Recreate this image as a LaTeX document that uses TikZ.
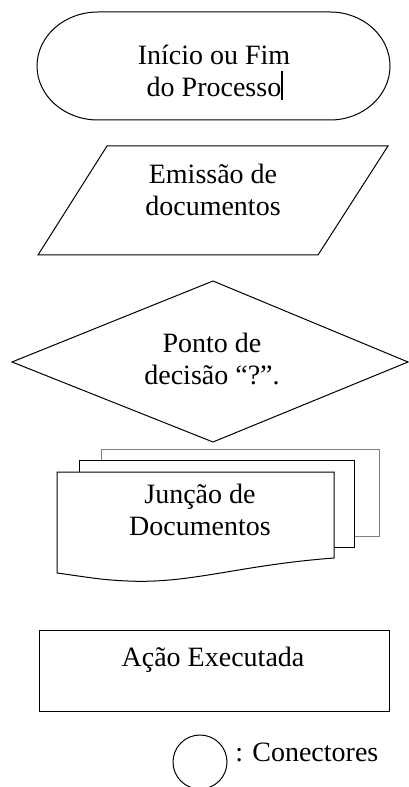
\documentclass[tikz,border=0pt]{standalone}
\usepackage{fontspec}
\setmainfont{Liberation Serif}
\usepackage{tikz}
\usetikzlibrary{positioning}

\tikzset{
    outline/.style = {line width=0.75pt, black},
    sheet/.style = {line width=0.75pt, fill=white},
    lbl/.style = {font=\fontsize{21}{24}\selectfont, align=center, inner sep=0pt}
}

\begin{document}
\begin{tikzpicture}[x=0.75pt, y=-0.75pt]
            \useasboundingbox (0,0) rectangle (409,787);
            % terminal
            \draw[outline] (98,12) -- (330,12) arc (-90:90:60 and 54) -- (98,120) arc (90:270:61 and 54) -- cycle;
            \node[lbl] (term) at (214,71) {Início ou Fim\\do Processo};
            \draw[line width=0.9pt] (282,71) -- (282,100);
            % input / output
            \draw[outline] (107,146) -- (388,146) -- (318,255) -- (38,255) -- cycle;
            \node[lbl] (emit) at (213,190) {Emissão de\\documentos};
            % decision
            \draw[outline] (213,281) -- (408,362) -- (213,442) -- (12,362) -- cycle;
            \node[lbl] (decide) at (212,359) {Ponto de\\decisão “?”.};
            % multiple documents
            \draw[sheet, draw=gray] (101,449) rectangle (379,536);
            \draw[sheet] (79,460) rectangle (354,547);
            \draw[sheet] (57,472) -- (334,472) -- (334,558)
                .. controls (240,565) and (190,584) .. (128,581)
                .. controls (100,580) and (80,576) .. (57,573) -- cycle;
            \node[lbl] (docs) at (200,510) {Junção de\\Documentos};
            % process
            \draw[outline] (39,630) rectangle (389,711);
            \node[lbl] (action) at (213,660) {Ação Executada};
            % connector
            \draw[outline] (200,762) circle (27);
            \node[lbl, anchor=west] (conn) at (235,752) {: Conectores};
        \end{tikzpicture}
\end{document}
